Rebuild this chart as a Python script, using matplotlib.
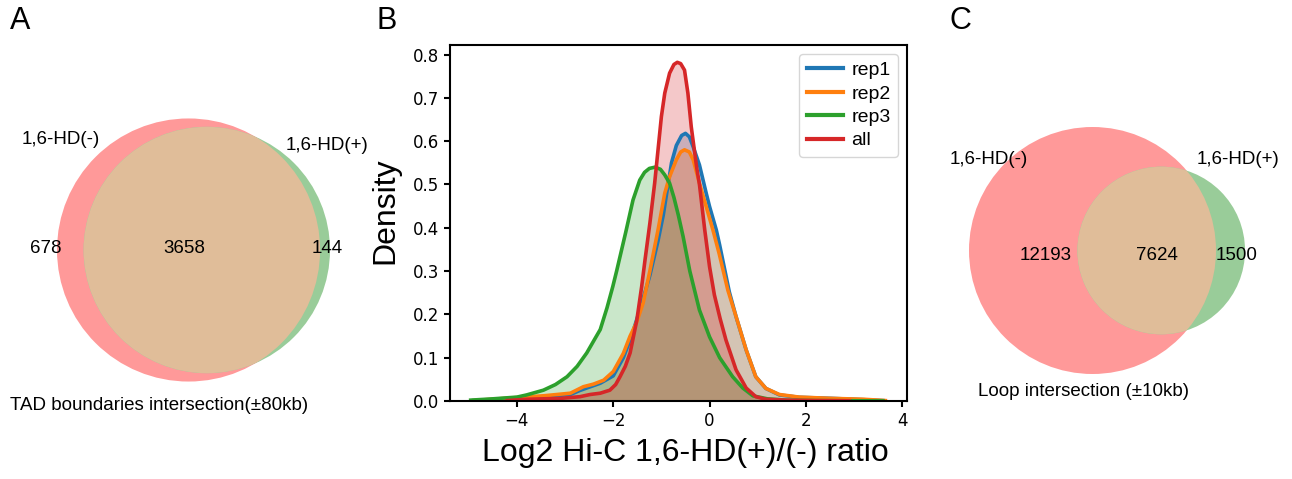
import numpy as np
import matplotlib
matplotlib.use("Agg")
import matplotlib.pyplot as plt
from matplotlib.patches import Circle

plt.rcParams['font.family'] = ['Liberation Sans', 'DejaVu Sans']

# ---- venn counts (only -, only +, both)
tad_counts = [678, 144, 3658]
loop_counts = [12193, 1500, 7624]
set_names = ["1,6-HD(-)", "1,6-HD(+)"]

# ---- density curves (x = log2 ratio, y = density)
rep1_x = [-4.9, -4.13, -3.45, -2.89, -2.7, -2.55, -2.27, -2.0, -1.79, -1.62, -1.45, -1.24, -1.07, -0.96,
          -0.89, -0.79, -0.69, -0.58, -0.50, -0.42, -0.34, -0.21, -0.07, 0.0, 0.14, 0.21, 0.41, 0.55,
          0.76, 0.96, 1.17, 1.45, 1.86, 2.55, 3.2, 3.6]
rep1_y = [0.001, 0.005, 0.010, 0.015, 0.024, 0.030, 0.041, 0.058, 0.10, 0.15, 0.21, 0.29, 0.37, 0.43,
          0.48, 0.55, 0.590, 0.613, 0.618, 0.610, 0.587, 0.545, 0.48, 0.449, 0.395, 0.36, 0.252, 0.195,
          0.118, 0.056, 0.029, 0.014, 0.0085, 0.006, 0.003, 0.001]

rep2_x = [-4.9, -4.13, -3.45, -2.89, -2.62, -2.41, -2.2, -2.0, -1.79, -1.65, -1.52, -1.38, -1.24, -1.07,
          -0.93, -0.83, -0.69, -0.60, -0.52, -0.42, -0.34, -0.21, -0.07, 0.07, 0.2, 0.38, 0.55, 0.76,
          0.96, 1.17, 1.45, 1.86, 2.55, 3.2, 3.65]
rep2_y = [0.001, 0.007, 0.012, 0.018, 0.033, 0.039, 0.048, 0.068, 0.11, 0.15, 0.18, 0.226, 0.30, 0.395,
          0.48, 0.518, 0.557, 0.575, 0.58, 0.575, 0.557, 0.503, 0.449, 0.395, 0.34, 0.256, 0.195, 0.118,
          0.056, 0.029, 0.015, 0.009, 0.006, 0.004, 0.001]

rep3_x = [-4.96, -4.5, -4.0, -3.8, -3.45, -3.2, -2.96, -2.75, -2.55, -2.4, -2.27, -2.13, -2.01, -1.93,
          -1.74, -1.59, -1.45, -1.35, -1.25, -1.13, -1.02, -0.93, -0.83, -0.74, -0.65, -0.55, -0.41,
          -0.21, 0.0, 0.21, 0.48, 0.69, 0.9, 1.2, 1.6, 2.2, 3.0, 3.6]
rep3_y = [0.002, 0.005, 0.009, 0.014, 0.025, 0.038, 0.056, 0.08, 0.111, 0.14, 0.165, 0.215, 0.264, 0.30,
          0.39, 0.464, 0.51, 0.528, 0.537, 0.540, 0.535, 0.522, 0.503, 0.47, 0.43, 0.38, 0.30,
          0.21, 0.148, 0.10, 0.056, 0.030, 0.012, 0.005, 0.002, 0.001, 0.0005, 0.0002]

all_x = [-4.2, -3.8, -3.1, -2.69, -2.48, -2.27, -2.07, -1.95, -1.86, -1.75, -1.65, -1.51, -1.41, -1.34,
         -1.24, -1.14, -1.07, -1.0, -0.93, -0.83, -0.74, -0.67, -0.60, -0.52, -0.45, -0.38, -0.27, -0.21,
         -0.10, 0.0, 0.10, 0.22, 0.34, 0.55, 0.76, 0.96, 1.17, 1.6, 2.2, 2.9]
all_y = [0.001, 0.004, 0.006, 0.010, 0.015, 0.018, 0.025, 0.038, 0.056, 0.08, 0.111, 0.187, 0.264, 0.326,
         0.41, 0.503, 0.58, 0.657, 0.711, 0.757, 0.777, 0.782, 0.779, 0.764, 0.711, 0.633, 0.541, 0.50,
         0.395, 0.31, 0.245, 0.19, 0.141, 0.072, 0.030, 0.010, 0.004, 0.002, 0.001, 0.0005]

series = [("rep1", rep1_x, rep1_y, "tab:blue"),
          ("rep2", rep2_x, rep2_y, "tab:orange"),
          ("rep3", rep3_x, rep3_y, "tab:green"),
          ("all", all_x, all_y, "tab:red")]

W, H = 1292, 479
fig = plt.figure(figsize=(W / 100, H / 100), dpi=100)


def box(l, t, r, b):
    return [l / W, 1 - b / H, (r - l) / W, (b - t) / H]


def ftext(x, y, s, **kw):
    fig.text(x / W, 1 - y / H, s, **kw)


def lens_area(r1, r2, d):
    a1 = np.arccos((d * d + r1 * r1 - r2 * r2) / (2 * d * r1))
    a2 = np.arccos((d * d + r2 * r2 - r1 * r1) / (2 * d * r2))
    k = (-d + r1 + r2) * (d + r1 - r2) * (d - r1 + r2) * (d + r1 + r2)
    return r1 * r1 * a1 + r2 * r2 * a2 - 0.5 * np.sqrt(k)


def venn(ax, only_a, only_b, both):
    r1 = np.sqrt((only_a + both) / np.pi)
    r2 = np.sqrt((only_b + both) / np.pi)
    lo, hi = abs(r1 - r2) + 1e-9, r1 + r2 - 1e-9
    for _ in range(100):
        mid = 0.5 * (lo + hi)
        if lens_area(r1, r2, mid) > both:
            lo = mid
        else:
            hi = mid
    d = 0.5 * (lo + hi)
    red = Circle((0, 0), r1, fc="#ff9999", ec="none")
    ax.add_patch(red)
    ax.add_patch(Circle((d, 0), r2, fc="#99cc99", ec="none"))
    inter = Circle((d, 0), r2, fc="#e0bd99", ec="none")
    ax.add_patch(inter)
    inter.set_clip_path(red)
    rm = max(r1, r2)
    ax.set_xlim(-r1, max(r1, d + r2))
    ax.set_ylim(-rm, rm)
    ax.set_aspect("equal", adjustable="box", anchor="W")
    ax.axis("off")


# ---- panel A
axA = fig.add_axes(box(57, 118, 330, 382))
venn(axA, *tad_counts)
ftext(61, 140, set_names[0], fontsize=13.5, ha="center", va="center")
ftext(327, 146, set_names[1], fontsize=13.5, ha="center", va="center")
ftext(46, 249, str(tad_counts[0]), fontsize=13.5, ha="center", va="center")
ftext(184, 249, str(tad_counts[2]), fontsize=13.5, ha="center", va="center")
ftext(327, 249, str(tad_counts[1]), fontsize=13.5, ha="center", va="center")
ftext(159, 405, "TAD boundaries intersection(\u00b180kb)", fontsize=13.5, ha="center", va="center")

# ---- panel C
axC = fig.add_axes(box(969, 127, 1257, 374))
venn(axC, *loop_counts)
ftext(989, 159, set_names[0], fontsize=13.5, ha="center", va="center")
ftext(1238, 159, set_names[1], fontsize=13.5, ha="center", va="center")
ftext(1046, 256, str(loop_counts[0]), fontsize=13.5, ha="center", va="center")
ftext(1157, 256, str(loop_counts[2]), fontsize=13.5, ha="center", va="center")
ftext(1237, 256, str(loop_counts[1]), fontsize=13.5, ha="center", va="center")
ftext(1084, 392, "Loop intersection (\u00b110kb)", fontsize=13.5, ha="center", va="center")

# ---- panel B
axB = fig.add_axes(box(450, 45, 907, 401))
for name, xs, ys, c in series:
    axB.fill_between(xs, ys, color=c, alpha=0.25, lw=0)
    axB.plot(xs, ys, color=c, lw=2.6, label=name)
axB.set_xlim(-5.39, 4.1)
axB.set_ylim(0, 0.822)
axB.set_xticks([-4, -2, 0, 2, 4])
axB.set_yticks(np.arange(0, 0.81, 0.1))
axB.set_yticklabels([f"{v:.1f}" for v in np.arange(0, 0.81, 0.1)])
for lab in axB.get_xticklabels() + axB.get_yticklabels():
    lab.set_fontfamily("DejaVu Sans")
    lab.set_fontsize(12)
for sp in axB.spines.values():
    sp.set_linewidth(1.5)
axB.tick_params(width=1.5, length=4.5)
axB.set_xlabel("Log2 Hi-C 1,6-HD(+)/(-) ratio", fontsize=23)
axB.set_ylabel("Density", fontsize=23)
axB.xaxis.set_label_coords(0.515, -0.105)
axB.yaxis.set_label_coords(-0.109, 0.534)
leg = axB.legend(loc="upper right", fontsize=14, handlelength=1.9, labelspacing=0.3,
                 handletextpad=0.4, borderpad=0.4, borderaxespad=0.45)
for ln in leg.get_lines():
    ln.set_linewidth(3)

ftext(20, 21, "A", fontsize=22, ha="center", va="center")
ftext(387, 21, "B", fontsize=22, ha="center", va="center")
ftext(960, 21, "C", fontsize=22, ha="center", va="center")

fig.savefig("out.png", dpi=100)
